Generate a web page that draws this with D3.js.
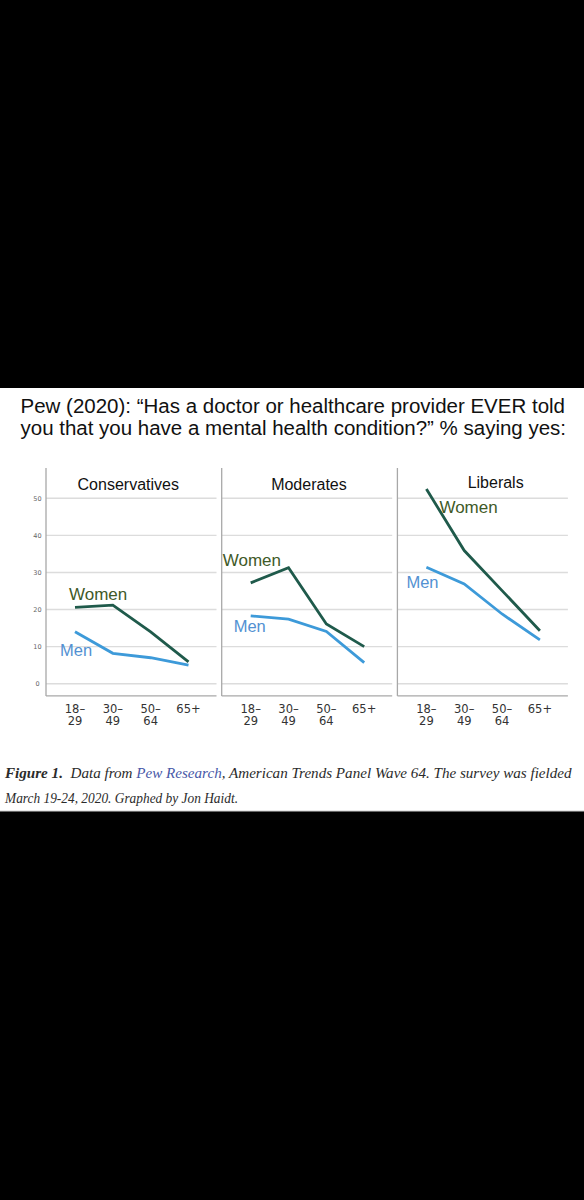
<!DOCTYPE html>
<html>
<head>
<meta charset="utf-8">
<script src="https://cdn.jsdelivr.net/npm/d3@7"></script>
<style>
  body { margin: 0; background: #000; }
  svg { display: block; }
</style>
</head>
<body>
<div id="chart"></div>
<script>
// values (% saying yes)
var ageGroups = ["18–29", "30–49", "50–64", "65+"];
var panelNames = ["Conservatives", "Moderates", "Liberals"];
var womenValues = [
    [20.6, 21.2, 14.0, 5.9],
    [27.2, 31.3, 16.1, 10.0],
    [52.5, 35.9, 25.1, 14.3]
];
var menValues = [
    [14.0, 8.2, 7.0, 5.0],
    [18.3, 17.4, 14.1, 5.7],
    [31.4, 26.9, 18.8, 11.8]
];
var yTicks = [0, 10, 20, 30, 40, 50];

var titleLines = [
    "Pew (2020): \u201CHas a doctor or healthcare provider EVER told",
    "you that you have a mental health condition?\u201D % saying yes:"
];

// caption pieces: text, bold?, link colour?
var captionParts = [
    ["Figure 1.", true, false],
    ["\u00A0 Data from ", false, false],
    ["Pew Research", false, true],
    [", American Trends Panel Wave 64. The survey was fielded", false, false]
];
var captionLine2 = "March 19-24, 2020. Graphed by Jon Haidt.";

function init(){

    var w = 584;
    var h = 1200;

    var womenColor = "#1f5a4b";
    var menColor = "#3d9ad9";

    var svg = d3.select("#chart")
            .append("svg")
            .attr("width", w)
            .attr("height", h);

    svg.append("rect")
        .attr("x", 0).attr("y", 0)
        .attr("width", w).attr("height", h)
        .attr("fill", "#000");

    // white card holding the figure + caption
    svg.append("rect")
        .attr("x", 0).attr("y", 388)
        .attr("width", w).attr("height", 423)
        .attr("fill", "#fff");
    svg.append("line")
        .attr("x1", 0).attr("x2", w)
        .attr("y1", 811).attr("y2", 811)
        .attr("stroke", "#cfcfcf");

    // title
    svg.selectAll("text.title")
        .data(titleLines)
        .enter()
        .append("text")
        .attr("class", "title")
        .attr("x", 20.5)
        .attr("y", function(d, i){ return 412.7 + i * 22.5; })
        .attr("font-family", "Liberation Sans, Arial, sans-serif")
        .attr("font-size", 20)
        .attr("fill", "#111")
        .attr("textLength", function(d, i){ return i == 0 ? 544.5 : 545.5; })
        .attr("lengthAdjust", "spacingAndGlyphs")
        .text(function(d){ return d; });

    var yScale = d3.scaleLinear()
                    .domain([0, 50])
                    .range([683.7, 498.3]);

    var panelScale = d3.scaleLinear()
                    .domain([0, 1])
                    .range([46, 221.7]);
    var panelWidth = 170.5;
    var axisBottom = yScale(-3.3);
    var panelTop = 468;

    // y tick labels, only on the left
    svg.selectAll("text.ytick")
        .data(yTicks)
        .enter()
        .append("text")
        .attr("class", "ytick")
        .attr("x", 37.5)
        .attr("y", function(d){ return yScale(d) + 2.5; })
        .attr("text-anchor", "middle")
        .attr("font-family", "DejaVu Sans, sans-serif")
        .attr("font-size", 6.5)
        .attr("fill", "#666")
        .text(function(d){ return d; });

    // where the Women / Men labels sit: [px offset from first age point, value]
    var labelSpots = [
        {women: [-6, 22.6], men: [-15, 7.5]},
        {women: [-28, 31.7], men: [-17, 13.9]},
        {women: [13, 46.0], men: [-20, 25.8]}
    ];

    panelNames.forEach(function(name, p){

        var left = panelScale(p);
        var right = left + panelWidth;

        var xScale = d3.scalePoint()
                        .domain(ageGroups)
                        .range([left + 29, left + 142.5]);

        var g = svg.append("g");

        // gridlines
        g.selectAll("line.grid")
            .data(yTicks)
            .enter()
            .append("line")
            .attr("x1", left).attr("x2", right)
            .attr("y1", function(d){ return yScale(d); })
            .attr("y2", function(d){ return yScale(d); })
            .attr("stroke", "#dcdcdc")
            .attr("stroke-width", 1.4);

        // frame: left + bottom
        g.append("line")
            .attr("x1", left).attr("x2", left)
            .attr("y1", panelTop).attr("y2", axisBottom)
            .attr("stroke", "#a8a8a8")
            .attr("stroke-width", 1.3);
        g.append("line")
            .attr("x1", left).attr("x2", right)
            .attr("y1", axisBottom).attr("y2", axisBottom)
            .attr("stroke", "#a8a8a8")
            .attr("stroke-width", 1.3);

        g.append("text")
            .attr("x", left + (right - left) / 2 + (p == 0 ? -3 : (p == 2 ? 13 : 2)))
            .attr("y", p == 2 ? 487.5 : 490)
            .attr("text-anchor", "middle")
            .attr("font-family", "Liberation Sans, Arial, sans-serif")
            .attr("font-size", 16)
            .attr("fill", "#111")
            .text(name);

        // x tick labels on two lines, each line its own text
        var tickLines = [
            {y: 712.5, part: function(d){ return d.indexOf("–") > 0 ? d.split("–")[0] + "–" : d; }},
            {y: 724.5, part: function(d){ return d.indexOf("–") > 0 ? d.split("–")[1] : ""; }}
        ];
        tickLines.forEach(function(tl){
            g.selectAll(null)
                .data(ageGroups)
                .enter()
                .append("text")
                .attr("x", function(d){ return xScale(d); })
                .attr("y", tl.y)
                .attr("text-anchor", "middle")
                .attr("font-family", "DejaVu Sans, sans-serif")
                .attr("font-size", 11.5)
                .attr("fill", "#333")
                .text(tl.part);
        });

        var line = d3.line()
                    .x(function(d, i){ return xScale(ageGroups[i]); })
                    .y(function(d){ return yScale(d); });

        g.append("path")
            .attr("d", line(menValues[p]))
            .attr("fill", "none")
            .attr("stroke", menColor)
            .attr("stroke-width", 2.8);
        g.append("path")
            .attr("d", line(womenValues[p]))
            .attr("fill", "none")
            .attr("stroke", womenColor)
            .attr("stroke-width", 2.8);

        var spot = labelSpots[p];
        g.append("text")
            .attr("x", xScale(ageGroups[0]) + spot.women[0])
            .attr("y", yScale(spot.women[1]))
            .attr("font-family", "Liberation Sans, Arial, sans-serif")
            .attr("font-size", 17)
            .attr("fill", "#3f5a28")
            .text("Women");
        g.append("text")
            .attr("x", xScale(ageGroups[0]) + spot.men[0])
            .attr("y", yScale(spot.men[1]))
            .attr("font-family", "Liberation Sans, Arial, sans-serif")
            .attr("font-size", 16.5)
            .attr("fill", "#5291d2")
            .text("Men");
    });

    // caption: pieces laid out one after the other, font sized to fill the line
    var capFont = "Liberation Serif, Times New Roman, serif";
    var capWidth = 567;
    var baseSize = 16;

    var pieces = svg.selectAll("text.cap")
        .data(captionParts)
        .enter()
        .append("text")
        .attr("class", "cap")
        .attr("y", 778)
        .attr("font-family", capFont)
        .attr("font-style", "italic")
        .attr("font-weight", function(d){ return d[1] ? "bold" : "normal"; })
        .attr("font-size", baseSize)
        .attr("fill", function(d){ return d[2] ? "#4858a8" : "#2b2b2b"; })
        .attr("xml:space", "preserve")
        .style("white-space", "pre")
        .text(function(d){ return d[0]; });

    var total = 0;
    pieces.each(function(){ total += this.getComputedTextLength(); });
    var capSize = baseSize * capWidth / total;

    var cx = 5;
    pieces.attr("font-size", capSize)
        .each(function(){
            d3.select(this).attr("x", cx);
            cx += this.getComputedTextLength();
        });

    svg.append("text")
        .attr("x", 5)
        .attr("y", 803)
        .attr("font-family", capFont)
        .attr("font-style", "italic")
        .attr("font-size", capSize)
        .attr("fill", "#2b2b2b")
        .attr("textLength", 233)
        .attr("lengthAdjust", "spacingAndGlyphs")
        .text(captionLine2);
}

window.onload = init;
</script>
</body>
</html>
